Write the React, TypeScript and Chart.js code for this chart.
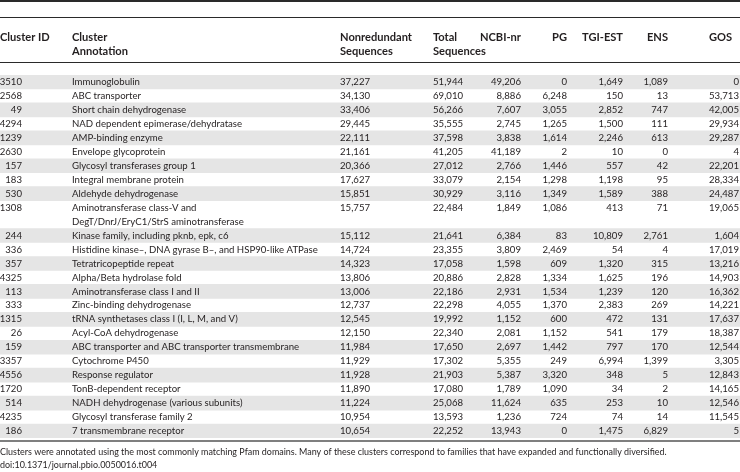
import React, { useEffect, useRef } from "react";
import { Chart, registerables } from "chart.js";

Chart.register(...registerables);

// ---------- data ----------
const clusterIds = ["3510", "2568", "49", "4294", "1239", "2630", "157", "183", "530", "1308", "244", "336", "357", "4325", "113", "333", "1315", "26", "159", "3357", "4556", "1720", "514", "4235", "186"];

const annotations: string[][] = [
  ["Immunoglobulin"],
  ["ABC transporter"],
  ["Short chain dehydrogenase"],
  ["NAD dependent epimerase/dehydratase"],
  ["AMP-binding enzyme"],
  ["Envelope glycoprotein"],
  ["Glycosyl transferases group 1"],
  ["Integral membrane protein"],
  ["Aldehyde dehydrogenase"],
  ["Aminotransferase class-V and", "DegT/DnrJ/EryC1/StrS aminotransferase"],
  ["Kinase family, including pknb, epk, c6"],
  ["Histidine kinase–, DNA gyrase B–, and HSP90-like ATPase"],
  ["Tetratricopeptide repeat"],
  ["Alpha/Beta hydrolase fold"],
  ["Aminotransferase class I and II"],
  ["Zinc-binding dehydrogenase"],
  ["tRNA synthetases class I (I, L, M, and V)"],
  ["Acyl-CoA dehydrogenase"],
  ["ABC transporter and ABC transporter transmembrane"],
  ["Cytochrome P450"],
  ["Response regulator"],
  ["TonB-dependent receptor"],
  ["NADH dehydrogenase (various subunits)"],
  ["Glycosyl transferase family 2"],
  ["7 transmembrane receptor"],
];

const nonredundant = [37227, 34130, 33406, 29445, 22111, 21161, 20366, 17627, 15851, 15757, 15112, 14724, 14323, 13806, 13006, 12737, 12545, 12150, 11984, 11929, 11928, 11890, 11224, 10954, 10654];
const totalSequences = [51944, 69010, 56266, 35555, 37598, 41205, 27012, 33079, 30929, 22484, 21641, 23355, 17058, 20886, 22186, 22298, 19992, 22340, 17650, 17302, 21903, 17080, 25068, 13593, 22252];
const ncbiNr = [49206, 8886, 7607, 2745, 3838, 41189, 2766, 2154, 3116, 1849, 6384, 3809, 1598, 2828, 2931, 4055, 1152, 2081, 2697, 5355, 5387, 1789, 11624, 1236, 13943];
const pg = [0, 6248, 3055, 1265, 1614, 2, 1446, 1298, 1349, 1086, 83, 2469, 609, 1334, 1534, 1370, 600, 1152, 1442, 249, 3320, 1090, 635, 724, 0];
const tgiEst = [1649, 150, 2852, 1500, 2246, 10, 557, 1198, 1589, 413, 10809, 54, 1320, 1625, 1239, 2383, 472, 541, 797, 6994, 348, 34, 253, 74, 1475];
const ens = [1089, 13, 747, 111, 613, 0, 42, 95, 388, 71, 2761, 4, 315, 196, 120, 269, 131, 179, 170, 1399, 5, 2, 10, 14, 6829];
const gos = [0, 53713, 42005, 29934, 29287, 4, 22201, 28334, 24487, 19065, 1604, 17019, 13216, 14903, 16362, 14221, 17637, 18387, 12544, 3305, 12843, 14165, 12546, 11545, 5];

const headerLabels: string[][] = [
  ["Cluster ID"],
  ["Cluster", "Annotation"],
  ["Nonredundant", "Sequences"],
  ["Total", "Sequences"],
  ["NCBI-nr"],
  ["PG"],
  ["TGI-EST"],
  ["ENS"],
  ["GOS"],
];

const footnotes = [
  "Clusters were annotated using the most commonly matching Pfam domains. Many of these clusters correspond to families that have expanded and functionally diversified.",
  "doi:10.1371/journal.pbio.0050016.t004",
];

// ---------- layout / style ----------
const W = 740;
const H = 472;
const FONT = 'Lato, "Open Sans", sans-serif';
const TEXT = "#231f20";
const STRIPE = "#e5e5e5";

// header: x + align ("gos" = left edge of widest value); values: x + align
const cols = [
  { hx: 0, ha: "left", vx: 22, align: "right" },
  { hx: 72, ha: "left", vx: 72, align: "left" },
  { hx: 340, ha: "left", vx: 340, align: "left" },
  { hx: 433, ha: "left", vx: 433, align: "left" },
  { hx: 521, ha: "right", vx: 521, align: "right" },
  { hx: 567, ha: "right", vx: 567, align: "right" },
  { hx: 623, ha: "right", vx: 623, align: "right" },
  { hx: 668, ha: "right", vx: 668, align: "right" },
  { hx: -1, ha: "left", vx: 739, align: "right" },
];

const fmt = (n: number) => n.toLocaleString("en-US");

const rowStart: number[] = [];
const slotLabels: string[] = [];
annotations.forEach((lines, i) => {
  rowStart.push(slotLabels.length);
  lines.forEach((_, k) => slotLabels.push(`${clusterIds[i]}-${k}`));
});
const stripeData = slotLabels.map((lab) => {
  const id = lab.split("-")[0];
  const idx = clusterIds.indexOf(id);
  return idx % 2 === 0 ? [0, W] : null;
});

function fitSize(ctx: CanvasRenderingContext2D, weight: string, text: string, target: number) {
  ctx.font = `${weight} 10px ${FONT}`;
  const w = ctx.measureText(text).width;
  return Math.max(8, Math.min(12, (10 * target) / w));
}

const tablePlugin = {
  id: "tableText",
  afterDatasetsDraw(chart: any) {
    const ctx: CanvasRenderingContext2D = chart.ctx;
    const xs = chart.scales.x;
    const ys = chart.scales.y;
    const px = (v: number) => xs.getPixelForValue(v);

    const fs = fitSize(ctx, "normal", "Histidine kinase–, DNA gyrase B–, and HSP90-like ATPase", 246);
    const hfs = fitSize(ctx, "bold", "Nonredundant", 72);
    const ffs = fitSize(ctx, "normal", footnotes[0], 667);

    ctx.save();
    ctx.strokeStyle = "#2a2a2a";
    ctx.lineWidth = 2;
    ctx.beginPath();
    ctx.moveTo(px(0), 1);
    ctx.lineTo(px(W), 1);
    ctx.stroke();
    ctx.lineWidth = 1;
    ctx.beginPath();
    ctx.moveTo(px(0), 17.5);
    ctx.lineTo(px(W), 17.5);
    ctx.stroke();
    ctx.beginPath();
    ctx.moveTo(px(0), 62.5);
    ctx.lineTo(px(W), 62.5);
    ctx.stroke();
    ctx.strokeStyle = "#555";
    ctx.lineWidth = 1.5;
    const bottom = chart.chartArea.bottom + 3;
    ctx.beginPath();
    ctx.moveTo(px(0), bottom);
    ctx.lineTo(px(W), bottom);
    ctx.stroke();

    // left edge of widest GOS value
    ctx.font = `${fs}px ${FONT}`;
    const gosW = Math.max(...gos.map((v) => ctx.measureText(fmt(v)).width));
    const gosLeft = 739 - gosW;

    ctx.fillStyle = TEXT;
    ctx.textBaseline = "middle";
    ctx.font = `bold ${hfs}px ${FONT}`;
    headerLabels.forEach((lines, c) => {
      ctx.textAlign = cols[c].ha as CanvasTextAlign;
      const hx = cols[c].hx < 0 ? gosLeft : cols[c].hx;
      lines.forEach((t, k) => ctx.fillText(t, px(hx), 37 + k * 14));
    });

    ctx.font = `${fs}px ${FONT}`;
    clusterIds.forEach((id, i) => {
      const yc = ys.getPixelForValue(rowStart[i]);
      const vals = [id, null, fmt(nonredundant[i]), fmt(totalSequences[i]), fmt(ncbiNr[i]), fmt(pg[i]), fmt(tgiEst[i]), fmt(ens[i]), fmt(gos[i])];
      vals.forEach((v, c) => {
        ctx.textAlign = cols[c].align as CanvasTextAlign;
        if (c === 1) {
          annotations[i].forEach((t, k) => ctx.fillText(t, px(cols[c].vx), ys.getPixelForValue(rowStart[i] + k)));
        } else {
          ctx.fillText(v as string, px(cols[c].vx), yc);
        }
      });
    });

    ctx.textAlign = "left";
    ctx.font = `${ffs}px ${FONT}`;
    footnotes.forEach((t, k) => ctx.fillText(t, px(0), bottom + 11 + k * 13));
    ctx.restore();
  },
};

export default function App() {
  const ref = useRef<HTMLCanvasElement | null>(null);
  useEffect(() => {
    document.body.style.margin = "0";
    const canvas = ref.current;
    if (!canvas) return;
    const chart = new Chart(canvas, {
      type: "bar",
      data: {
        labels: slotLabels,
        datasets: [
          {
            data: stripeData as any,
            backgroundColor: STRIPE,
            borderWidth: 0,
            categoryPercentage: 1,
            barPercentage: 1,
          },
        ],
      },
      options: {
        indexAxis: "y",
        responsive: false,
        maintainAspectRatio: false,
        animation: false,
        devicePixelRatio: 1,
        layout: { padding: { top: 75, bottom: H - 438, left: 0, right: 0 } },
        plugins: { legend: { display: false }, tooltip: { enabled: false }, title: { display: false } },
        scales: {
          x: { type: "linear", min: 0, max: W, display: false },
          y: { type: "category", display: false, offset: true },
        },
      },
      plugins: [tablePlugin],
    });
    return () => chart.destroy();
  }, []);
  return (
    <div style={{ width: W, height: H, background: "#fff" }}>
      <canvas ref={ref} width={W} height={H} style={{ display: "block", width: W, height: H }} />
    </div>
  );
}
